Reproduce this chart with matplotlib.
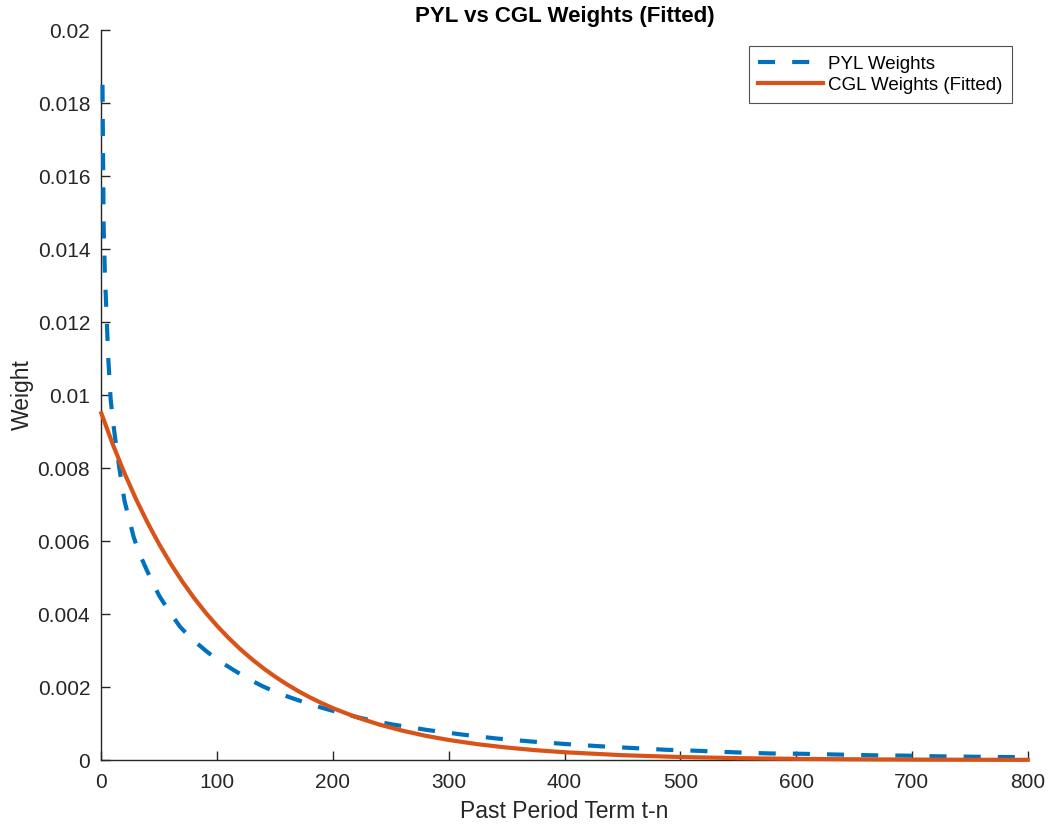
import matplotlib
matplotlib.use("Agg")
import matplotlib.pyplot as plt

# PYL weights
pyl_x = [1, 2, 3, 4, 5, 6, 8, 10, 12, 16, 20, 24, 28, 33, 39, 44, 50, 58, 68, 78,
         90, 100, 114, 127, 140, 153, 167, 181, 195, 209, 223, 237, 252, 282,
         311, 341, 370, 400, 429, 458, 488, 517, 547, 577, 606, 635, 665, 695,
         724, 753, 783, 800]
pyl_y = [0.0185, 0.0146, 0.0134, 0.0126, 0.0118, 0.0110, 0.0099, 0.0093, 0.0088,
         0.0079, 0.0071, 0.0066, 0.0061, 0.00565, 0.00522, 0.00488, 0.0045,
         0.0041, 0.00365, 0.00332, 0.0030, 0.00275, 0.00247, 0.00222, 0.00201,
         0.00183, 0.00167, 0.00152, 0.00139, 0.00127, 0.00116, 0.00106, 0.00097,
         0.00082, 0.00070, 0.00059, 0.00051, 0.00044, 0.00038, 0.00033, 0.00028,
         0.00025, 0.00021, 0.00018, 0.00017, 0.00015, 0.00013, 0.00012, 0.00010,
         0.00009, 0.00008, 0.00008]

# CGL weights (fitted)
cgl_x = [0, 10, 20, 30, 40, 50, 60, 70, 80, 90, 100, 110, 120, 130, 140, 150,
         160, 170, 180, 190, 200, 220, 240, 260, 280, 300, 325, 350, 375, 400,
         450, 500, 550, 600, 650, 700, 750, 800]
cgl_y = [0.009500, 0.008640, 0.007857, 0.007144, 0.006497, 0.005908, 0.005373,
         0.004886, 0.004443, 0.004040, 0.003674, 0.003341, 0.003038, 0.002763,
         0.002512, 0.002285, 0.002078, 0.001889, 0.001718, 0.001563, 0.001421,
         0.001175, 0.000972, 0.000804, 0.000664, 0.000549, 0.000433, 0.000342,
         0.000269, 0.000213, 0.000132, 0.000082, 0.000051, 0.000032, 0.0000198,
         0.000012, 0.0000076, 0.0000048]

x_ticks = [0, 100, 200, 300, 400, 500, 600, 700, 800]
y_ticks = [0, 0.002, 0.004, 0.006, 0.008, 0.01, 0.012, 0.014, 0.016, 0.018, 0.02]
y_tick_labels = ["0", "0.002", "0.004", "0.006", "0.008", "0.01", "0.012",
                 "0.014", "0.016", "0.018", "0.02"]

plt.rcParams['font.family'] = ['Liberation Sans', 'DejaVu Sans']

fig = plt.figure(figsize=(10.49, 8.27), dpi=100)
ax = fig.add_axes([0.0966, 0.0810, 0.9797 - 0.0966, 0.9637 - 0.0810])

axcol = '#262626'
ax.plot(pyl_x, pyl_y, color='#0072BD', lw=3, dashes=(4.1, 4.1),
        label='PYL Weights', zorder=3, clip_on=False)
ax.plot(cgl_x, cgl_y, color='#D95319', lw=3, label='CGL Weights (Fitted)',
        zorder=4, clip_on=False)

ax.set_xlim(0, 800)
ax.set_ylim(0, 0.02)
ax.set_xticks(x_ticks)
ax.set_xticklabels([str(v) for v in x_ticks])
ax.set_yticks(y_ticks)
ax.set_yticklabels(y_tick_labels)

for s in ['top', 'right']:
    ax.spines[s].set_visible(False)
for s in ['left', 'bottom']:
    ax.spines[s].set_color(axcol)
    ax.spines[s].set_linewidth(1.0)

ax.tick_params(direction='in', length=6.5, width=1.0, colors=axcol,
               labelsize=15, labelcolor=axcol)
ax.tick_params(axis='x', pad=9)
ax.tick_params(axis='y', pad=8)

ax.set_xlabel('Past Period Term t-n', fontsize=16.5, color=axcol, labelpad=6)
ax.set_ylabel('Weight', fontsize=16.5, color=axcol, labelpad=3)
ax.set_title('PYL vs CGL Weights (Fitted)', fontsize=16, fontweight='bold',
             color='black', pad=6)

leg = ax.legend(loc='upper right', bbox_to_anchor=(0.9832, 0.9775),
                fontsize=13.5, frameon=True, fancybox=False, handlelength=3.45,
                handletextpad=0.3, borderpad=0.5, labelspacing=0.2,
                borderaxespad=0)
leg.get_frame().set_edgecolor(axcol)
leg.get_frame().set_linewidth(0.8)

fig.savefig('out.png', dpi=100)
